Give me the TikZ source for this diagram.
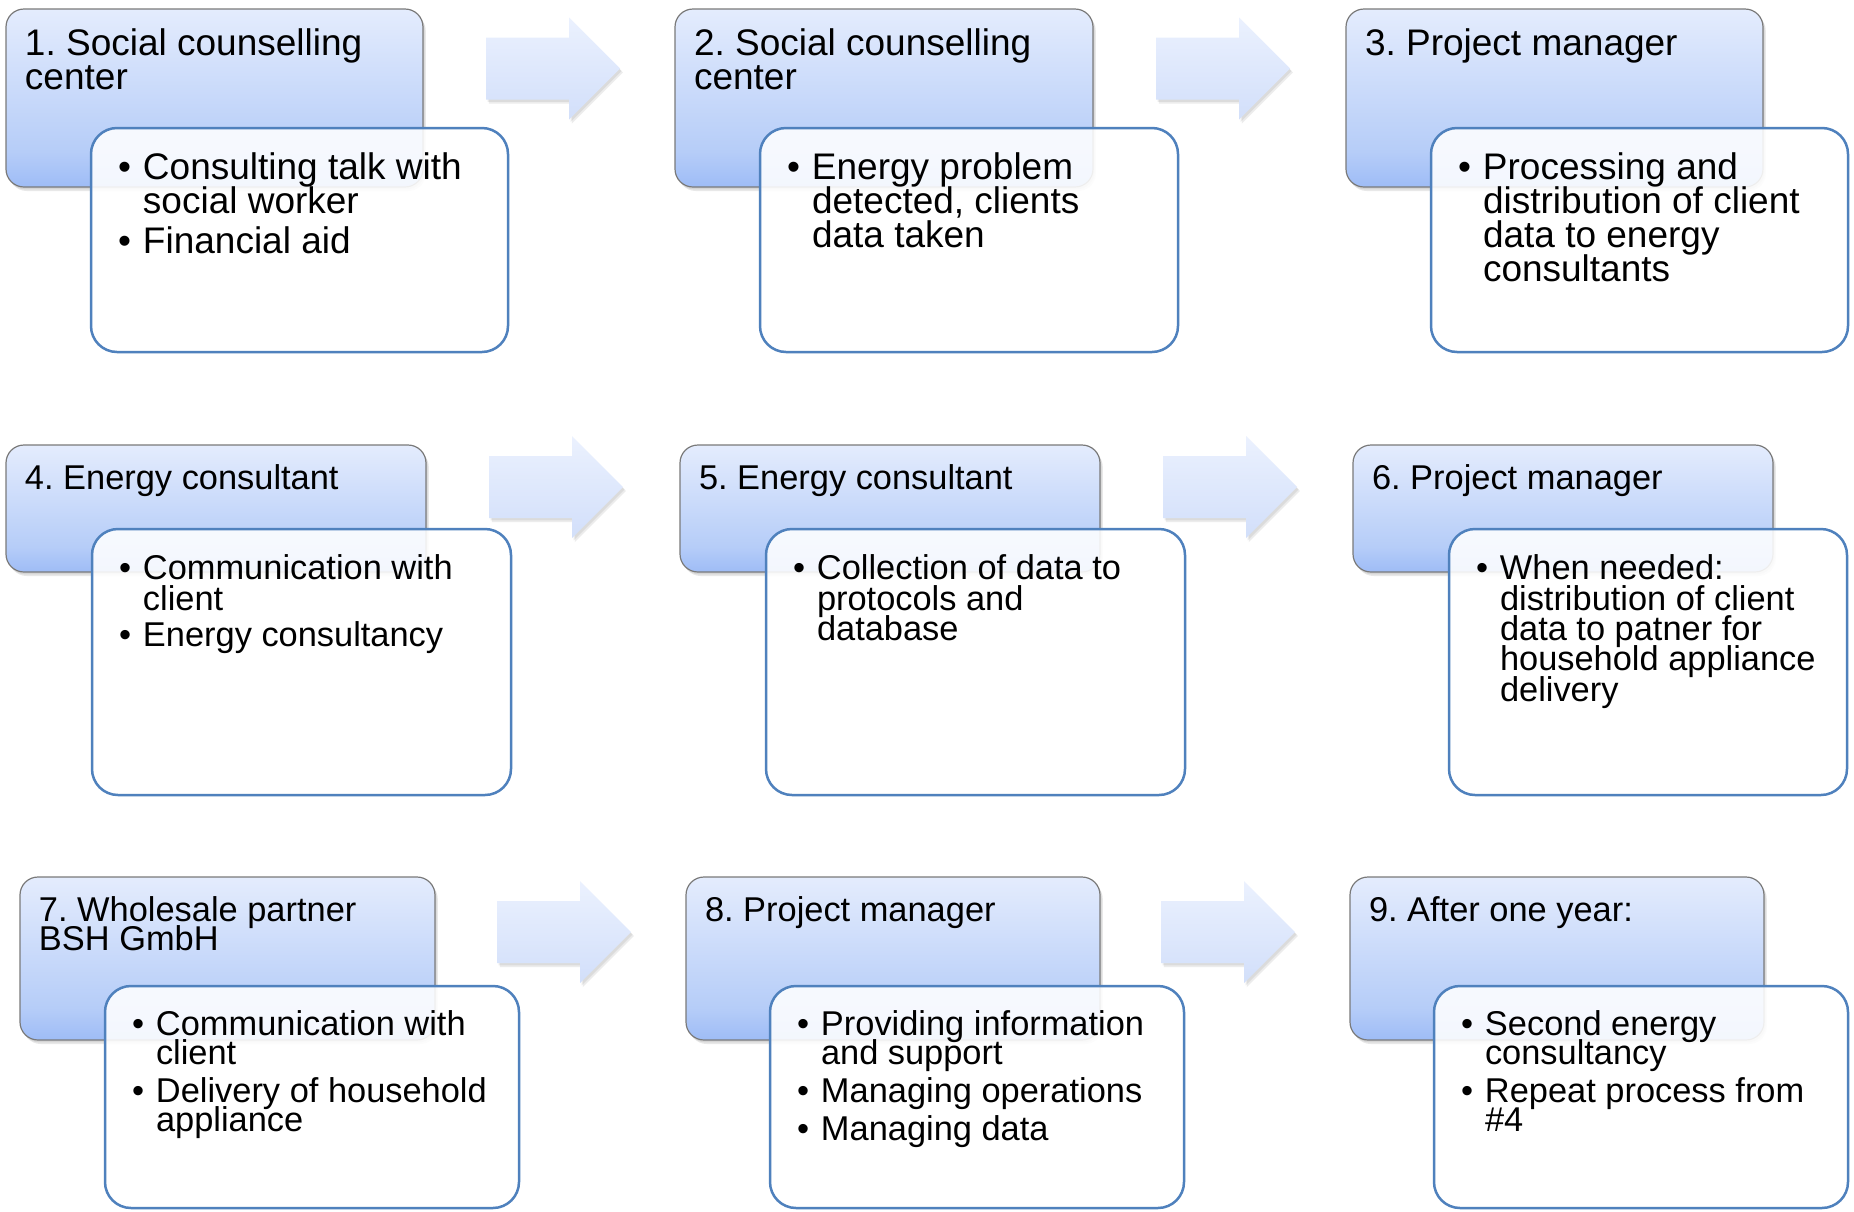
\documentclass[tikz,border=0pt]{standalone}
\usepackage{fontspec}
\setmainfont{Liberation Sans}
\usetikzlibrary{shadows}
\frenchspacing
\definecolor{ht}{HTML}{E4ECFD}
\definecolor{hm}{HTML}{B6CDF8}
\definecolor{hb}{HTML}{9EBCF6}
\definecolor{at}{HTML}{EBF1FE}
\definecolor{ab}{HTML}{D2DFFA}
\definecolor{detline}{HTML}{4F81BD}
\definecolor{hdrline}{HTML}{7A7A7A}
\pgfdeclareverticalshading{hdrshade}{100bp}{color(0bp)=(hb); color(25bp)=(hb); color(35bp)=(hm); color(75bp)=(ht); color(100bp)=(ht)}
\newlength\bw
\newcommand\fa{\fontsize{18.5pt}{17pt}\selectfont\frenchspacing\setlength\bw{12.5pt}}
\newcommand\fb{\fontsize{17.2pt}{15.2pt}\selectfont\frenchspacing\setlength\bw{12pt}}
\newcommand\fc{\fontsize{17.2pt}{14.5pt}\selectfont\frenchspacing\setlength\bw{12pt}}
\newcommand\txtblock[1]{\vtop{\hsize=300pt\parindent=0pt\parskip=0pt\lineskiplimit=-30pt\lineskip=0pt\let\\\newline #1}}
\newcommand\itm[1]{\par\hangindent=\bw\hangafter=1\noindent\makebox[\bw][l]{\textbullet}#1\par}
\newcommand\hd[1]{\txtblock{\noindent #1\par}}
\newcommand\barr[2]{\path[barrow] (#1,#2-31) -- (#1+83,#2-31) -- (#1+83,#2-51) -- (#1+134,#2) -- (#1+83,#2+51) -- (#1+83,#2+31) -- (#1,#2+31) -- cycle;}
\begin{document}
\begin{tikzpicture}[x=0.5pt,y=-0.5pt,
  wh/.style 2 args={minimum width=#1*0.5pt, minimum height=#2*0.5pt},
  hdr/.style={draw=hdrline, line width=0.6pt, rounded corners=9pt, shade, shading=hdrshade,
    drop shadow={shadow xshift=1.4pt, shadow yshift=-2pt, opacity=0.18},
    drop shadow={shadow xshift=0.8pt, shadow yshift=-1.2pt, opacity=0.18},
    inner sep=0pt, outer sep=0pt, anchor=north west},
  det/.style={draw=detline, line width=1.25pt, rounded corners=13pt, fill=white, fill opacity=0.88,
    draw opacity=1, inner sep=0pt, outer sep=0pt, anchor=north west},
  txt/.style={anchor=base west, inner sep=0pt, outer sep=0pt},
  barrow/.style={top color=at, bottom color=ab, draw=none,
    drop shadow={shadow xshift=1.4pt, shadow yshift=-2pt, opacity=0.15},
    drop shadow={shadow xshift=0.8pt, shadow yshift=-1.2pt, opacity=0.15}}
]
\useasboundingbox (0,0) rectangle (1854,1211);
\fill[white] (0,0) rectangle (1854,1211);

% ---------- Row 1 ----------
\barr{486}{68.5}
\barr{1156}{68.5}

\node[hdr, wh={417}{178}] (h1) at (6,9) {};
\node[txt] (t1) at ([xshift=9.5pt,yshift=-23pt]h1.north west) {\fa\hd{1. Social counselling\\center}};
\node[det, wh={417}{224}] (d1) at (91,128) {};
\node[txt] (l1) at ([xshift=13.5pt,yshift=-25.5pt]d1.north west) {\fa\txtblock{\itm{Consulting talk with\\social worker}\vskip3pt\itm{Financial aid}}};

\node[hdr, wh={418}{178}] (h2) at (675,9) {};
\node[txt] (t2) at ([xshift=9.5pt,yshift=-23pt]h2.north west) {\fa\hd{2. Social counselling\\center}};
\node[det, wh={418}{224}] (d2) at (760,128) {};
\node[txt] (l2) at ([xshift=13.5pt,yshift=-25.5pt]d2.north west) {\fa\txtblock{\itm{Energy problem\\detected, clients\\data taken}}};

\node[hdr, wh={417}{178}] (h3) at (1346,9) {};
\node[txt] (t3) at ([xshift=9.5pt,yshift=-23pt]h3.north west) {\fa\hd{3. Project manager}};
\node[det, wh={417}{224}] (d3) at (1431,128) {};
\node[txt] (l3) at ([xshift=13.5pt,yshift=-25.5pt]d3.north west) {\fa\txtblock{\itm{Processing and\\distribution of client\\data to energy\\consultants}}};

% ---------- Row 2 ----------
\barr{489}{487}
\barr{1163}{487}

\node[hdr, wh={420}{127}] (h4) at (6,445) {};
\node[txt] (t4) at ([xshift=9.5pt,yshift=-22pt]h4.north west) {\fb\hd{4. Energy consultant}};
\node[det, wh={419}{266}] (d4) at (92,529) {};
\node[txt] (l4) at ([xshift=13.5pt,yshift=-25.3pt]d4.north west) {\fb\txtblock{\itm{Communication with\\client}\vskip3.1pt\itm{Energy consultancy}}};

\node[hdr, wh={420}{127}] (h5) at (680,445) {};
\node[txt] (t5) at ([xshift=9.5pt,yshift=-22pt]h5.north west) {\fb\hd{5. Energy consultant}};
\node[det, wh={419}{266}] (d5) at (766,529) {};
\node[txt] (l5) at ([xshift=13.5pt,yshift=-25.3pt]d5.north west) {\fb\txtblock{\itm{Collection of data to\\protocols and\\database}}};

\node[hdr, wh={420}{127}] (h6) at (1353,445) {};
\node[txt] (t6) at ([xshift=9.5pt,yshift=-22pt]h6.north west) {\fb\hd{6. Project manager}};
\node[det, wh={398}{266}] (d6) at (1449,529) {};
\node[txt] (l6) at ([xshift=13.5pt,yshift=-25.3pt]d6.north west) {\fb\txtblock{\itm{When needed:\\distribution of client\\data to patner for\\household appliance\\delivery}}};

% ---------- Row 3 ----------
\barr{497}{932}
\barr{1161}{932}

\node[hdr, wh={415}{163}] (h7) at (20,877) {};
\node[txt] (t7) at ([xshift=9.5pt,yshift=-22.3pt]h7.north west) {\fc\hd{7. Wholesale partner\\BSH GmbH}};
\node[det, wh={414}{222}] (d7) at (105,986) {};
\node[txt] (l7) at ([xshift=13.5pt,yshift=-24.8pt]d7.north west) {\fc\txtblock{\itm{Communication with\\client}\vskip4.5pt\itm{Delivery of household\\appliance}}};

\node[hdr, wh={414}{163}] (h8) at (686,877) {};
\node[txt] (t8) at ([xshift=9.5pt,yshift=-22.3pt]h8.north west) {\fc\hd{8. Project manager}};
\node[det, wh={414}{222}] (d8) at (770,986) {};
\node[txt] (l8) at ([xshift=13.5pt,yshift=-24.8pt]d8.north west) {\fc\txtblock{\itm{Providing information\\and support}\vskip4.5pt\itm{Managing operations}\vskip4.5pt\itm{Managing data}}};

\node[hdr, wh={414}{163}] (h9) at (1350,877) {};
\node[txt] (t9) at ([xshift=9.5pt,yshift=-22.3pt]h9.north west) {\fc\hd{9. After one year:}};
\node[det, wh={414}{222}] (d9) at (1434,986) {};
\node[txt] (l9) at ([xshift=13.5pt,yshift=-24.8pt]d9.north west) {\fc\txtblock{\itm{Second energy\\consultancy}\vskip4.5pt\itm{Repeat process from\\\#4}}};
\end{tikzpicture}
\end{document}
